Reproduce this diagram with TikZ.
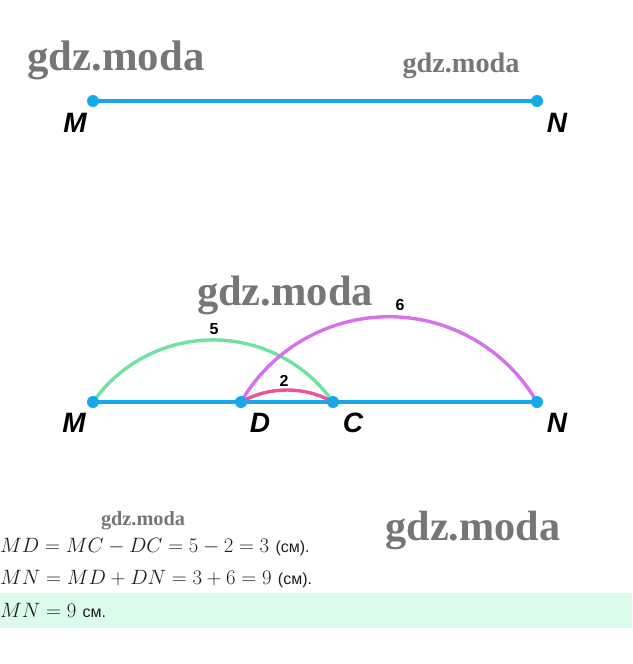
\documentclass[tikz,border=0pt]{standalone}
\usepackage{fontspec}
\usepackage{graphicx}
\newfontfamily\lblfont{Liberation Sans}
\newfontfamily\wmfont{Liberation Serif}
\definecolor{segblue}{RGB}{22,168,232}
\definecolor{arcgreen}{RGB}{112,226,160}
\definecolor{arcviolet}{RGB}{214,112,236}
\definecolor{arcpink}{RGB}{236,84,148}
\definecolor{bandgreen}{RGB}{220,252,235}
\definecolor{wmgray}{RGB}{118,118,118}
\definecolor{txt}{RGB}{30,30,30}
\tikzset{
  seg/.style={draw=segblue, line width=4pt},
  arcG/.style={draw=arcgreen, line width=3.4pt},
  arcV/.style={draw=arcviolet, line width=3.4pt},
  arcP/.style={draw=arcpink, line width=3.4pt},
  ptdot/.style={circle, fill=segblue, inner sep=0pt, minimum size=12pt},
  ptlabel/.style={inner sep=0pt, font=\lblfont\bfseries\itshape\fontsize{28}{32}\selectfont},
  numlabel/.style={inner sep=0pt, font=\lblfont\bfseries\fontsize{16}{18}\selectfont},
  wm/.style={anchor=base, inner sep=0pt, text=wmgray, font=\wmfont\bfseries},
  eqline/.style={anchor=base west, inner sep=0pt, text=txt, font=\fontsize{20.74}{24}\selectfont},
}
\newcommand{\unitfont}{\lblfont\fontsize{16}{18}\selectfont}
\newcommand{\wmtext}[1]{\resizebox{#1}{!}{gdz.moda}}
\begin{document}
\begin{tikzpicture}[x=1pt,y=-1pt]
\useasboundingbox (0,0) rectangle (632,664);
% green answer band
\fill[bandgreen] (0,593) rectangle (632,628);

% watermarks
\node[wm] (wm1) at (116,70) {\wmtext{177pt}};
\node[wm] (wm2) at (461,72) {\wmtext{117pt}};
\node[wm] (wm3) at (285,305) {\wmtext{176pt}};
\node[wm] (wm4) at (143,525) {\wmtext{84pt}};
\node[wm] (wm5) at (473,540) {\wmtext{175pt}};

% top segment
\coordinate (M1) at (93,101);
\coordinate (N1) at (537,101);
\draw[seg] (M1) -- (N1);
\node[ptdot] (M1d) at (M1) {};
\node[ptdot] (N1d) at (N1) {};
\node[ptlabel] (lM1) at (75,123) {M};
\node[ptlabel] (lN1) at (557,123) {N};

% bottom segment with arcs
\coordinate (M2) at (93,402);
\coordinate (D2) at (241,402);
\coordinate (C2) at (333,402);
\coordinate (N2) at (537,402);
\draw[seg] (M2) -- (N2);
\draw[arcG] (M2) arc[start angle=-144.7, end angle=-35.3, radius=147.1];
\draw[arcV] (D2) arc[start angle=-149.9, end angle=-30.1, radius=171];
\draw[arcP] (D2) arc[start angle=-119.24, end angle=-60.76, radius=94.17];
\node[ptdot] (M2d) at (M2) {};
\node[ptdot] (D2d) at (D2) {};
\node[ptdot] (C2d) at (C2) {};
\node[ptdot] (N2d) at (N2) {};
\node[ptlabel] (lM2) at (74,423) {M};
\node[ptlabel] (lD2) at (260,423) {D};
\node[ptlabel] (lC2) at (353,423) {C};
\node[ptlabel] (lN2) at (557,423) {N};
\node[numlabel] (n5) at (214,329) {5};
\node[numlabel] (n6) at (400,305) {6};
\node[numlabel] (n2) at (284,381) {2};

% solution text
\node[eqline] (eq1) at (0,552) {$MD = MC - DC = 5 - 2 = 3$ {\unitfont (см).}};
\node[eqline] (eq2) at (0,584) {$MN = MD + DN = 3 + 6 = 9$ {\unitfont (см).}};
\node[eqline] (eq3) at (0,617) {$MN = 9$ {\unitfont см.}};
\end{tikzpicture}
\end{document}
